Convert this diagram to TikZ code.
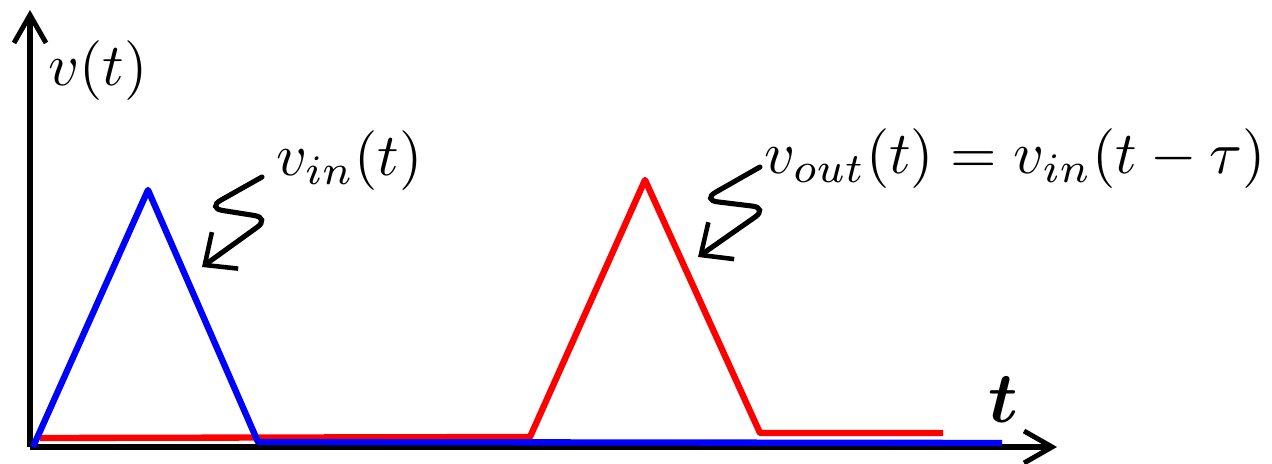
\documentclass[tikz,border=0pt]{standalone}
\usepackage{amsmath}
\usetikzlibrary{arrows.meta}

\begin{document}
\begin{tikzpicture}[
    axis/.style   = {line width=3.6pt, -{Straight Barb[length=5.6mm, width=6.4mm, line width=2.8pt]}},
    sig/.style    = {line width=3.6pt, line join=round},
    squig/.style  = {line width=2.9pt, rounded corners=9pt, line cap=round,
                     -{Straight Barb[length=5mm, width=9mm, line width=2.6pt]}},
    lbl/.style    = {scale=3.4, inner sep=0pt},
]
\useasboundingbox (0,0) rectangle (25.44,9.28);

% axes
\coordinate (O)    at (0.60, 0.34);
\coordinate (ytop) at (0.60, 9.08);
\coordinate (xend) at (21.14, 0.34);
\draw[axis] (O) -- (ytop);
\draw[axis] (O) -- (xend);

% output pulse (red)
\coordinate (r0) at (0.80, 0.52);
\coordinate (r1) at (10.60, 0.54);
\coordinate (r2) at (12.90, 5.68);
\coordinate (r3) at (15.20, 0.62);
\coordinate (r4) at (18.86, 0.62);
\draw[sig, red] (r0) -- (r1) -- (r2) -- (r3) -- (r4);

% input pulse (blue)
\coordinate (b0) at (0.66, 0.34);
\coordinate (b1) at (2.96, 5.48);
\coordinate (b2) at (5.16, 0.44);
\coordinate (b3) at (20.04, 0.42);
\draw[sig, blue] (b0) -- (b1) -- (b2) -- (b3);

% labels
\node[lbl] (vt)   at (1.96, 7.86) {$v(t)$};
\node[lbl, anchor=west] (vin)  at (5.50, 6.06) {$v_{in}(t)$};
\node[lbl, anchor=west] (vout) at (15.26, 6.10) {$v_{out}(t) = v_{in}(t-\tau)$};
\node[lbl, scale=1.2] (tlab) at (20.06, 1.28) {$\boldsymbol{t}$};

% squiggly pointers
\coordinate (s1a) at (5.24, 5.74);
\coordinate (s1b) at (4.14, 5.12);
\coordinate (s1c) at (5.40, 4.92);
\coordinate (s1d) at (4.04, 3.94);
\draw[squig] (s1a) -- (s1b) -- (s1c) -- (s1d);

\coordinate (s2a) at (15.20, 5.94);
\coordinate (s2b) at (14.04, 5.28);
\coordinate (s2c) at (15.36, 5.12);
\coordinate (s2d) at (13.96, 4.14);
\draw[squig] (s2a) -- (s2b) -- (s2c) -- (s2d);

\end{tikzpicture}
\end{document}
